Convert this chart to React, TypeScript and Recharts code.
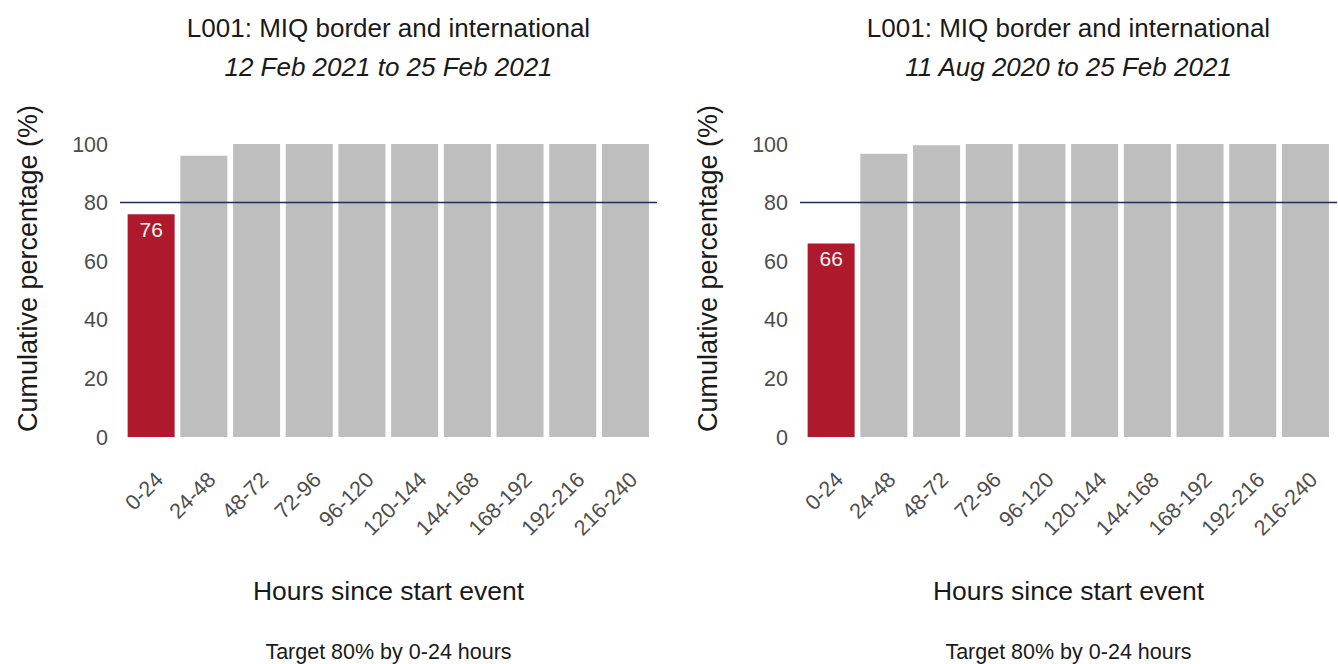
import { Bar, BarChart, Cell, LabelList, ReferenceLine, XAxis, YAxis, Label } from "recharts";

const HOURS = ["0-24", "24-48", "48-72", "72-96", "96-120", "120-144", "144-168", "168-192", "192-216", "216-240"];
const FORTNIGHT_PCT = [76, 96, 100, 100, 100, 100, 100, 100, 100, 100];
const SINCE_AUG_PCT = [66, 96.7, 99.6, 100, 100, 100, 100, 100, 100, 100];
const Y_TICKS = [0, 20, 40, 60, 80, 100];
const TARGET = 80;

const FONT = "'Liberation Sans', Arial, sans-serif";
const TICK_GREY = "#4d4d4d";
const TEXT_DARK = "#1a1a1a";
const HIGHLIGHT = "#ae1a2c";
const BAR_GREY = "#bebebe";
const TARGET_LINE = "#1f2a5c";

const PANEL_W = 657;
const PANEL_H = 664;

function XTick(props: any) {
  const { x, y, payload } = props;
  return (
    <g transform={`translate(${x + 13},${y + 44}) rotate(-45)`}>
      <text textAnchor="end" fill={TICK_GREY} fontSize={21.5} fontFamily={FONT}>
        {payload.value}
      </text>
    </g>
  );
}

function BarValue(props: any) {
  const { x, y, width, value } = props;
  if (value === "" || value == null) return null;
  return (
    <text
      x={x + width / 2}
      y={y + 15}
      textAnchor="middle"
      dominantBaseline="central"
      fill="#f4f4f4"
      fontSize={21}
      fontFamily={FONT}
    >
      {value}
    </text>
  );
}

function XTitle(props: any) {
  const { x, y, width } = props.viewBox;
  return (
    <text x={x + width / 2} y={y + 163} textAnchor="middle" fill={TEXT_DARK} fontSize={26.5} fontFamily={FONT}>
      Hours since start event
    </text>
  );
}

function YTitle(props: any) {
  const { y, height } = props.viewBox;
  // ggplot centres the title a little above the panel middle here
  const cy = y + height / 2 - 22;
  return (
    <text
      transform={`translate(37,${cy}) rotate(-90)`}
      textAnchor="middle"
      fill={TEXT_DARK}
      fontSize={27}
      fontFamily={FONT}
    >
      Cumulative percentage (%)
    </text>
  );
}

function Panel({ values, period, left }: { values: number[]; period: string; left: number }) {
  const data = HOURS.map((h, i) => ({
    hours: h,
    pct: values[i],
    label: i === 0 ? String(values[i]) : "",
  }));
  const centre = 388.5;
  const textBox = (top: number, size: number, italic = false): React.CSSProperties => ({
    position: "absolute",
    left: centre - 300,
    width: 600,
    top,
    textAlign: "center",
    fontSize: size,
    lineHeight: `${size}px`,
    fontFamily: FONT,
    fontStyle: italic ? "italic" : "normal",
    color: TEXT_DARK,
    whiteSpace: "nowrap",
  });
  return (
    <div style={{ position: "absolute", left, top: 0, width: PANEL_W, height: PANEL_H }}>
      <BarChart
        width={PANEL_W}
        height={PANEL_H}
        data={data}
        margin={{ top: 144, right: 0, bottom: 0, left: 0 }}
        barCategoryGap="5%"
        style={{ fontFamily: FONT }}
      >
        <XAxis
          dataKey="hours"
          height={227}
          axisLine={false}
          tickLine={false}
          tickSize={0}
          tickMargin={0}
          interval={0}
          padding={{ left: 5, right: 5 }}
          tick={<XTick />}
        >
          <Label content={<XTitle />} />
        </XAxis>
        <YAxis
          domain={[0, 100]}
          ticks={Y_TICKS}
          width={120}
          axisLine={false}
          tickLine={false}
          tickSize={0}
          tickMargin={12}
          tick={{ fill: TICK_GREY, fontSize: 21.5, fontFamily: FONT }}
        >
          <Label content={<YTitle />} />
        </YAxis>
        <Bar dataKey="pct" isAnimationActive={false}>
          {data.map((d, i) => (
            <Cell key={d.hours} fill={i === 0 ? HIGHLIGHT : BAR_GREY} />
          ))}
          <LabelList dataKey="label" content={<BarValue />} />
        </Bar>
        <ReferenceLine y={TARGET} stroke={TARGET_LINE} strokeWidth={1.5} />
      </BarChart>
      <div style={textBox(14.7, 26)}>L001: MIQ border and international</div>
      <div style={textBox(54, 26, true)}>{period}</div>
      <div style={textBox(642, 21.5)}>Target 80% by 0-24 hours</div>
    </div>
  );
}

export default function App() {
  return (
    <div
      style={{
        position: "absolute",
        left: 0,
        top: 0,
        width: 1338,
        height: 664,
        background: "#fff",
        overflow: "hidden",
      }}
    >
      <Panel values={FORTNIGHT_PCT} period="12 Feb 2021 to 25 Feb 2021" left={0} />
      <Panel values={SINCE_AUG_PCT} period="11 Aug 2020 to 25 Feb 2021" left={680} />
    </div>
  );
}
